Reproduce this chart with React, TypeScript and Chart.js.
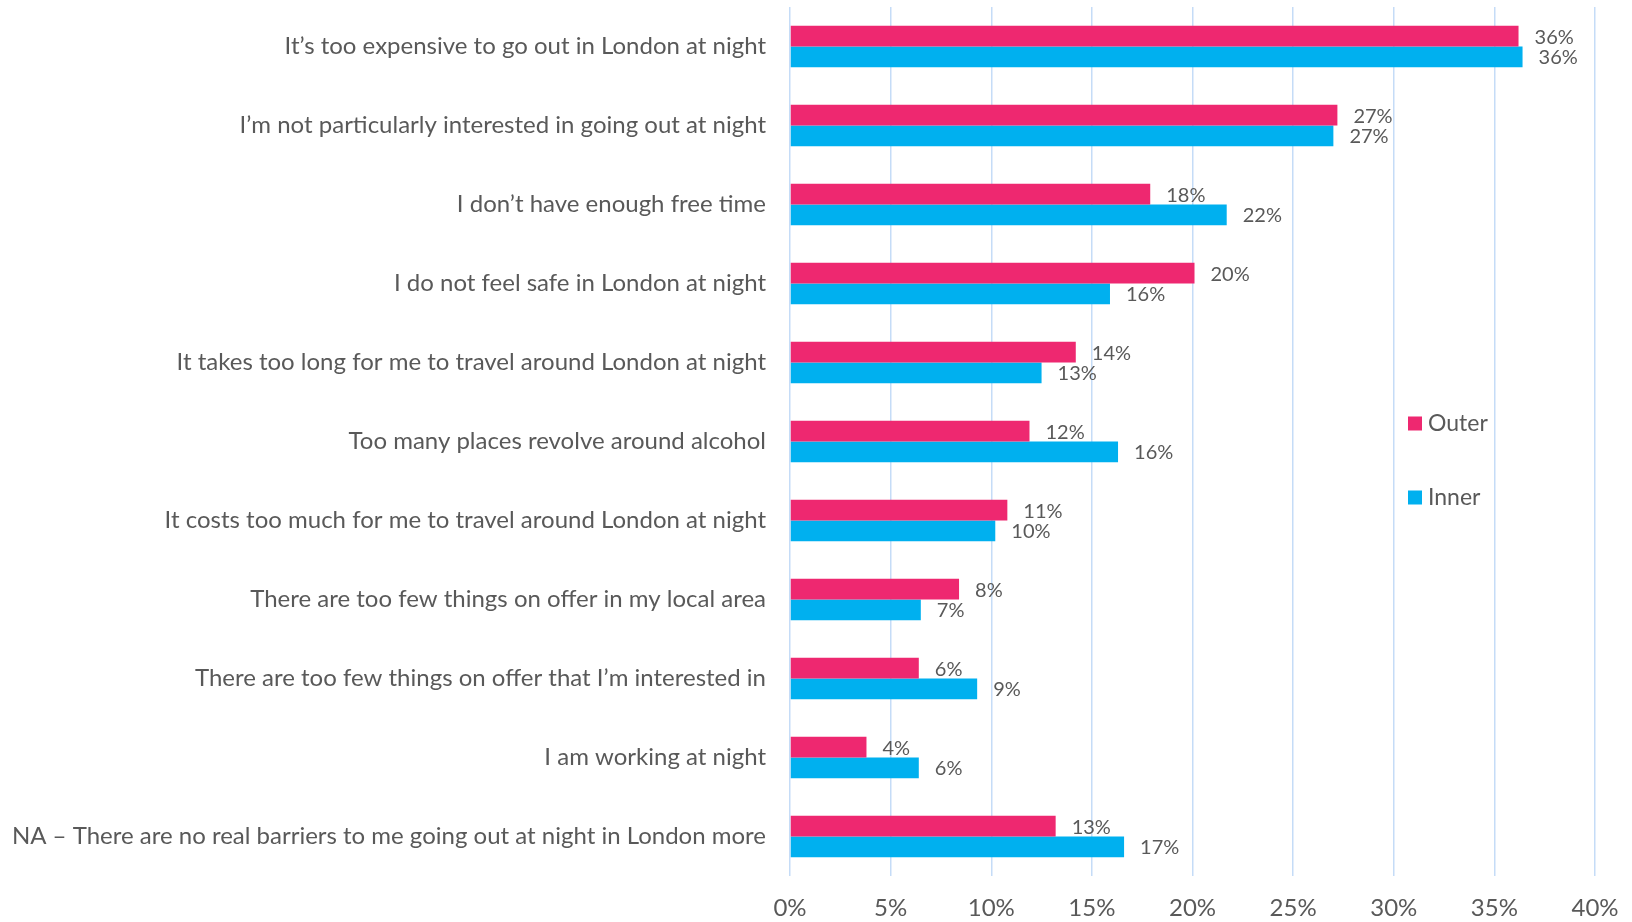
import React, { useEffect, useRef } from "react";
import { Chart, registerables } from "chart.js";

Chart.register(...registerables);

const categories = [
  "It’s too expensive to go out in London at night",
  "I’m not particularly interested in going out at night",
  "I don’t have enough free time",
  "I do not feel safe in London at night",
  "It takes too long for me to travel around London at night",
  "Too many places revolve around alcohol",
  "It costs too much for me to travel around London at night",
  "There are too few things on offer in my local area",
  "There are too few things on offer that I’m interested in",
  "I am working at night",
  "NA – There are no real barriers to me going out at night in London more",
];

const outerValues = [36.2, 27.2, 17.9, 20.1, 14.2, 11.9, 10.8, 8.4, 6.4, 3.8, 13.2];
const innerValues = [36.4, 27.0, 21.7, 15.9, 12.5, 16.3, 10.2, 6.5, 9.3, 6.4, 16.6];

const seriesNames = ["Outer", "Inner"];
const seriesColors = ["#EE2870", "#00B0EF"];

const xTicks = [0, 5, 10, 15, 20, 25, 30, 35, 40];

const FONT = "Lato, 'Open Sans', sans-serif";
const TEXT = "#595959";

const valueLabelPlugin = {
  id: "valueLabels",
  afterDatasetsDraw(chart: any) {
    const ctx = chart.ctx;
    ctx.save();
    ctx.font = `20px ${FONT}`;
    ctx.fillStyle = TEXT;
    ctx.textAlign = "left";
    ctx.textBaseline = "middle";
    chart.data.datasets.forEach((ds: any, di: number) => {
      const meta = chart.getDatasetMeta(di);
      meta.data.forEach((bar: any, i: number) => {
        const v = ds.data[i];
        ctx.fillText(`${Math.round(v)}%`, bar.x + 16, bar.y + 1);
      });
    });
    ctx.restore();
  },
};

const customLegendPlugin = {
  id: "customLegend",
  afterDraw(chart: any) {
    const ctx = chart.ctx;
    const area = chart.chartArea;
    const mid = (area.top + area.bottom) / 2;
    const x = area.right - 187;
    const ys = [mid - 18, mid + 56];
    ctx.save();
    ctx.font = `23px ${FONT}`;
    ctx.textAlign = "left";
    ctx.textBaseline = "middle";
    chart.data.datasets.forEach((ds: any, i: number) => {
      ctx.fillStyle = ds.backgroundColor;
      ctx.fillRect(x, ys[i] - 7, 14, 14);
      ctx.fillStyle = TEXT;
      ctx.fillText(ds.label, x + 20, ys[i]);
    });
    ctx.restore();
  },
};

export default function App() {
  const ref = useRef<HTMLCanvasElement | null>(null);

  useEffect(() => {
    if (!ref.current) return;
    const chart = new Chart(ref.current, {
      type: "bar",
      data: {
        labels: categories,
        datasets: [
          {
            label: seriesNames[0],
            data: outerValues,
            backgroundColor: seriesColors[0],
            categoryPercentage: 0.524,
            barPercentage: 1.0,
          },
          {
            label: seriesNames[1],
            data: innerValues,
            backgroundColor: seriesColors[1],
            categoryPercentage: 0.524,
            barPercentage: 1.0,
          },
        ],
      },
      options: {
        indexAxis: "y",
        animation: false,
        responsive: false,
        maintainAspectRatio: false,
        layout: { padding: { left: 0, right: 37, top: 7, bottom: 0 } },
        plugins: {
          legend: { display: false },
          tooltip: { enabled: false },
        },
        scales: {
          x: {
            min: 0,
            max: 40,
            afterBuildTicks(scale: any) {
              scale.ticks = xTicks.map((v) => ({ value: v }));
            },
            afterFit(scale: any) {
              scale.height = 46;
              scale.paddingLeft = 0;
              scale.paddingRight = 0;
            },
            grid: {
              color: "#C5DCF7",
              lineWidth: 1.5,
              drawTicks: false,
            },
            border: { display: false },
            ticks: {
              padding: 18,
              color: TEXT,
              font: { family: FONT, size: 24 },
              callback: (v: any) => `${v}%`,
            },
          },
          y: {
            afterFit(scale: any) {
              scale.width = 790;
              scale.paddingTop = 0;
              scale.paddingBottom = 0;
            },
            grid: { display: false, drawTicks: false },
            border: { display: false },
            ticks: {
              padding: 24,
              color: TEXT,
              font: { family: FONT, size: 24 },
              autoSkip: false,
            },
          },
        },
      },
      plugins: [valueLabelPlugin, customLegendPlugin],
    });
    return () => chart.destroy();
  }, []);

  return (
    <div style={{ position: "fixed", left: 0, top: 0, width: 1632, height: 922, background: "#fff" }}>
      <canvas ref={ref} width={1632} height={922} style={{ display: "block" }} />
    </div>
  );
}
